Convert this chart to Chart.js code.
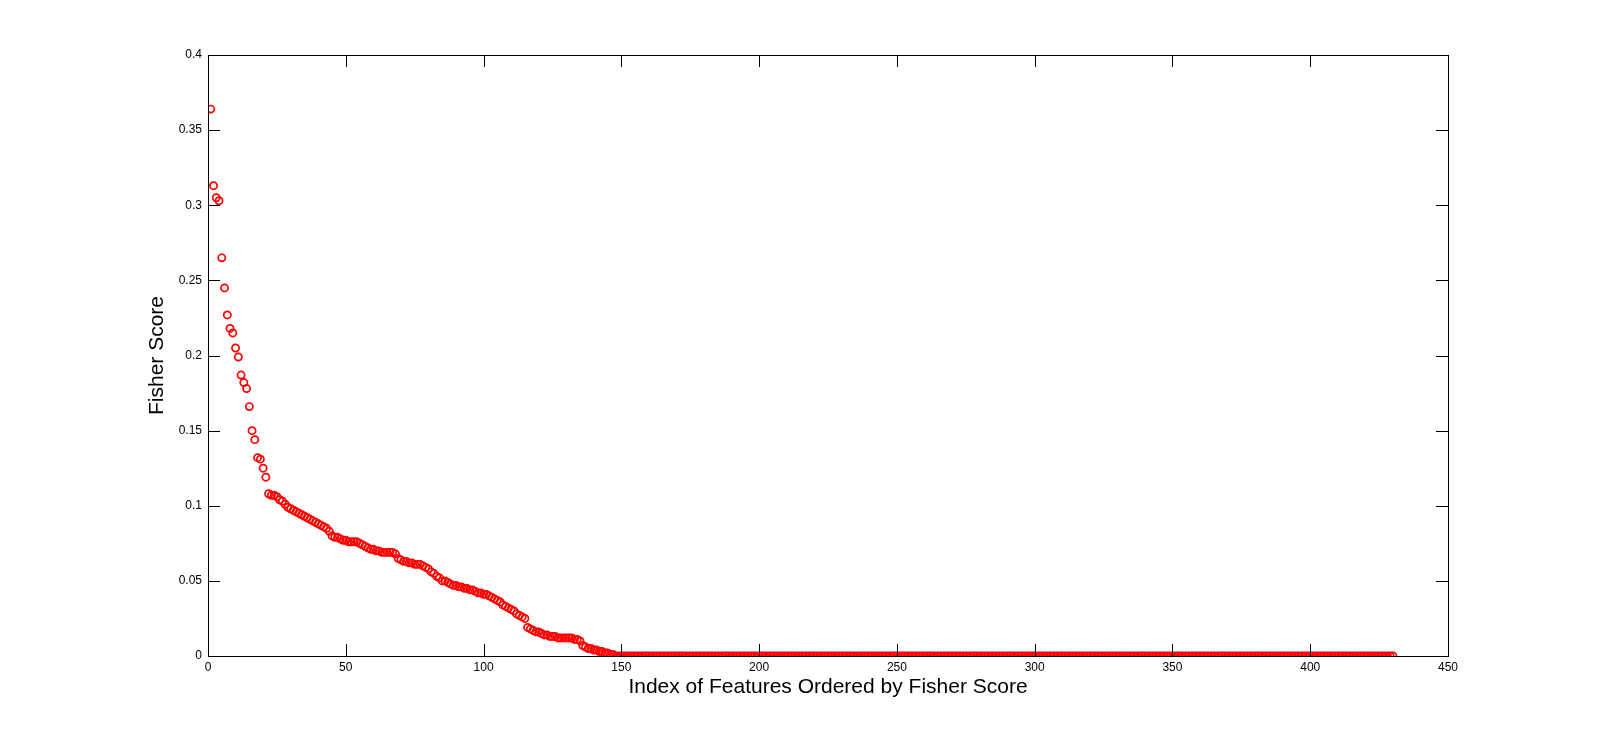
<!DOCTYPE html>
<html>
<head>
<meta charset="utf-8">
<title>Fisher Score</title>
<script src="https://cdn.jsdelivr.net/npm/chart.js@4/dist/chart.umd.min.js"></script>
<style>
    body { margin: 0; background: #fff; }
    canvas { display: block; }
</style>
</head>
<body>
<canvas id="fisherChart" width="1600" height="737"></canvas>
<script>
// Fisher scores, features sorted by score (index 1..430)
const topScores = [
    0.364, 0.313, 0.305, 0.303, 0.265, 0.245, 0.227, 0.218, 0.215, 0.205,
    0.199, 0.187, 0.182, 0.178, 0.166, 0.150, 0.144, 0.132, 0.131, 0.125,
    0.119, 0.108, 0.107, 0.107, 0.106, 0.104, 0.103, 0.101, 0.099, 0.098,
    0.097, 0.096, 0.095, 0.094, 0.093, 0.092, 0.091, 0.090, 0.089, 0.088,
    0.087, 0.086, 0.085, 0.083, 0.080, 0.079, 0.079, 0.078, 0.077, 0.077,
    0.076, 0.076, 0.076, 0.076, 0.075, 0.074, 0.073, 0.072, 0.071, 0.071,
    0.070, 0.070, 0.069, 0.069, 0.069, 0.069, 0.069, 0.068, 0.065, 0.064,
    0.063, 0.063, 0.062, 0.062, 0.061, 0.061, 0.061, 0.060, 0.059, 0.058,
    0.056, 0.055, 0.053, 0.052, 0.050, 0.050, 0.049, 0.048, 0.047, 0.047,
    0.046, 0.046, 0.045, 0.045, 0.044, 0.044, 0.043, 0.042, 0.042, 0.041,
    0.041, 0.040, 0.039, 0.038, 0.037, 0.036, 0.034, 0.033, 0.032, 0.031,
    0.030, 0.028, 0.027, 0.026, 0.025, 0.019, 0.018, 0.017, 0.016, 0.016,
    0.015, 0.014, 0.014, 0.013, 0.013, 0.013, 0.012, 0.012, 0.012, 0.012,
    0.012, 0.012, 0.011, 0.011, 0.010, 0.007, 0.006, 0.005, 0.005, 0.004,
    0.004, 0.003, 0.003, 0.002, 0.002, 0.001, 0.001
];

// the remaining features (148..430) all sit on zero
const zeroScores = [
    0,0,0,0,0,0,0,0,0,0, 0,0,0,0,0,0,0,0,0,0, 0,0,0,0,0,0,0,0,0,0,
    0,0,0,0,0,0,0,0,0,0, 0,0,0,0,0,0,0,0,0,0, 0,0,0,0,0,0,0,0,0,0,
    0,0,0,0,0,0,0,0,0,0, 0,0,0,0,0,0,0,0,0,0, 0,0,0,0,0,0,0,0,0,0,
    0,0,0,0,0,0,0,0,0,0, 0,0,0,0,0,0,0,0,0,0, 0,0,0,0,0,0,0,0,0,0,
    0,0,0,0,0,0,0,0,0,0, 0,0,0,0,0,0,0,0,0,0, 0,0,0,0,0,0,0,0,0,0,
    0,0,0,0,0,0,0,0,0,0, 0,0,0,0,0,0,0,0,0,0, 0,0,0,0,0,0,0,0,0,0,
    0,0,0,0,0,0,0,0,0,0, 0,0,0,0,0,0,0,0,0,0, 0,0,0,0,0,0,0,0,0,0,
    0,0,0,0,0,0,0,0,0,0, 0,0,0,0,0,0,0,0,0,0, 0,0,0,0,0,0,0,0,0,0,
    0,0,0,0,0,0,0,0,0,0, 0,0,0,0,0,0,0,0,0,0, 0,0,0,0,0,0,0,0,0,0,
    0,0,0,0,0,0,0,0,0,0, 0,0,0
];

const xTicks = [0, 50, 100, 150, 200, 250, 300, 350, 400, 450];
const yTicks = [0, 0.05, 0.1, 0.15, 0.2, 0.25, 0.3, 0.35, 0.4];

const scores = topScores.concat(zeroScores);
const points = scores.map((s, i) => ({ x: i + 1, y: s }));

const fontFamily = '"Liberation Sans", Arial, Helvetica, sans-serif';

// MATLAB style box with inward ticks on all four sides
const boxAxes = {
    id: 'boxAxes',
    afterDatasetsDraw(chart) {
        const { ctx, chartArea: a, scales } = chart;
        const len = 12;
        ctx.save();
        ctx.strokeStyle = '#000';
        ctx.lineWidth = 1;
        ctx.beginPath();
        xTicks.forEach(v => {
            const px = Math.round(scales.x.getPixelForValue(v)) + 0.5;
            ctx.moveTo(px, a.bottom); ctx.lineTo(px, a.bottom - len);
            ctx.moveTo(px, a.top); ctx.lineTo(px, a.top + len);
        });
        yTicks.forEach(v => {
            const py = Math.round(scales.y.getPixelForValue(v)) + 0.5;
            ctx.moveTo(a.left, py); ctx.lineTo(a.left + len, py);
            ctx.moveTo(a.right, py); ctx.lineTo(a.right - len, py);
        });
        ctx.stroke();
        ctx.strokeRect(Math.round(a.left) + 0.5, Math.round(a.top) + 0.5,
            Math.round(a.right - a.left), Math.round(a.bottom - a.top));
        ctx.restore();
    }
};

const ctx = document.getElementById('fisherChart').getContext('2d');
const chart = new Chart(ctx, {
    type: 'scatter',
    data: {
        datasets: [{
            data: points,
            pointStyle: 'circle',
            pointRadius: 3.6,
            pointHoverRadius: 3.6,
            pointBorderWidth: 1.7,
            pointBorderColor: '#ff0000',
            pointBackgroundColor: 'rgba(0,0,0,0)'
        }]
    },
    options: {
        responsive: false,
        animation: false,
        events: [],
        layout: {
            padding: { left: 0, top: 55, right: 152, bottom: 0 }
        },
        plugins: {
            legend: { display: false },
            tooltip: { enabled: false }
        },
        scales: {
            x: {
                type: 'linear',
                min: 0,
                max: 450,
                afterFit: s => { s.height = 81; },
                afterBuildTicks: s => { s.ticks = xTicks.map(v => ({ value: v })); },
                grid: { display: false, drawTicks: false },
                border: { display: false },
                ticks: {
                    padding: 4,
                    color: '#000',
                    maxRotation: 0,
                    font: { family: fontFamily, size: 12 }
                },
                title: {
                    display: true,
                    text: 'Index of Features Ordered by Fisher Score',
                    color: '#000',
                    font: { family: fontFamily, size: 21 },
                    padding: { top: 0, bottom: 37 }
                }
            },
            y: {
                type: 'linear',
                min: 0,
                max: 0.4,
                afterFit: s => { s.width = 208; },
                afterBuildTicks: s => { s.ticks = yTicks.map(v => ({ value: v })); },
                grid: { display: false, drawTicks: false },
                border: { display: false },
                ticks: {
                    padding: 6,
                    color: '#000',
                    font: { family: fontFamily, size: 12 },
                    callback: v => String(Number(v.toFixed(2)))
                },
                title: {
                    display: true,
                    text: 'Fisher Score',
                    color: '#000',
                    font: { family: fontFamily, size: 21 },
                    padding: { top: 145, bottom: 0 }
                }
            }
        }
    },
    plugins: [boxAxes]
});
</script>
</body>
</html>
